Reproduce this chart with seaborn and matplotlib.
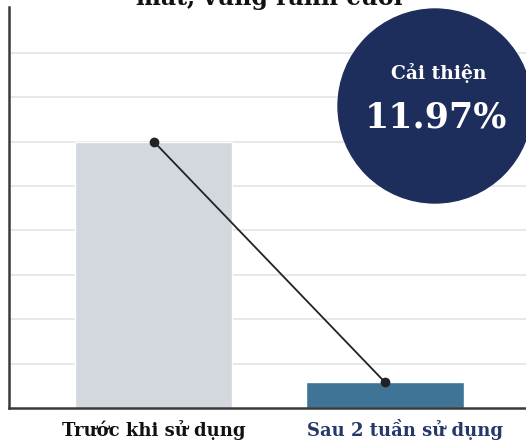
import matplotlib
matplotlib.use("Agg")
import matplotlib.pyplot as plt
import matplotlib.transforms as mtransforms
import seaborn as sns
from matplotlib.patches import Ellipse

# data
groups = ["Trước khi sử dụng", "Sau 2 tuần sử dụng"]
values = [6.0, 0.58]
bar_colors = ["#d3d7de", "#3f7497"]
label_colors = ["#111111", "#26386a"]
title_tail = "mắt, vùng rãnh cười"
badge_label = "Cải thiện"
badge_value = "11.97%"

sns.set_theme(style="white")
plt.rcParams["font.family"] = ["DejaVu Serif", "DejaVu Sans"]

fig = plt.figure(figsize=(5.26, 4.44), dpi=100)
ax = fig.add_axes([9 / 526, 36 / 444, 1 - 9 / 526, 401 / 444])

sns.barplot(x=groups, y=values, hue=groups, palette=bar_colors,
            width=0.68, legend=False, ax=ax, zorder=2, saturation=1)
ax.plot(range(len(values)), values, color="#222222", lw=1.3,
        marker="o", markersize=6, zorder=4)

ax.set_xlim(-0.626, 1.61)
ax.set_ylim(0, 9.03)
ax.set_yticks(range(1, 9))
ax.yaxis.grid(True, color="#e4e4e4", lw=1.2, zorder=0)
ax.tick_params(axis="y", left=False, labelleft=False)
ax.tick_params(axis="x", bottom=False, pad=3)
for side in ["top", "right"]:
    ax.spines[side].set_visible(False)
for side in ["left", "bottom"]:
    ax.spines[side].set_color("#3a3a3a")
    ax.spines[side].set_linewidth(1.8)

ax.set_xticks(range(len(groups)))
ax.set_xticklabels(groups, fontsize=13, fontweight="bold")
# align both labels on a common baseline; second one sits a bit right of its bar
offsets = [(0, -0.15), (0.2, -0.15)]
for lbl, c, (dx, dy) in zip(ax.get_xticklabels(), label_colors, offsets):
    lbl.set_color(c)
    lbl.set_verticalalignment("baseline")
    lbl.set_transform(lbl.get_transform()
                      + mtransforms.ScaledTranslation(dx, dy, fig.dpi_scale_trans))
ax.set_xlabel("")
ax.set_ylabel("")

# badge
badge = Ellipse((435 / 526, 1 - 106 / 444), 194 / 526, 194 / 444,
                transform=fig.transFigure, color="#1e2e5c", zorder=5)
fig.patches.append(badge)
fig.text(439 / 526, 1 - 73 / 444, badge_label, color="white", fontsize=13.5,
         fontweight="bold", ha="center", va="center", zorder=6)
fig.text(436 / 526, 1 - 117 / 444, badge_value, color="white", fontsize=25,
         fontweight="bold", ha="center", va="center", zorder=6)

# title, cut off at top edge as in the source image
fig.text(269 / 526, 1 - 5 / 444, title_tail, color="#111111", fontsize=17,
         fontweight="bold", ha="center", va="baseline")

fig.savefig("out.png", dpi=100)
